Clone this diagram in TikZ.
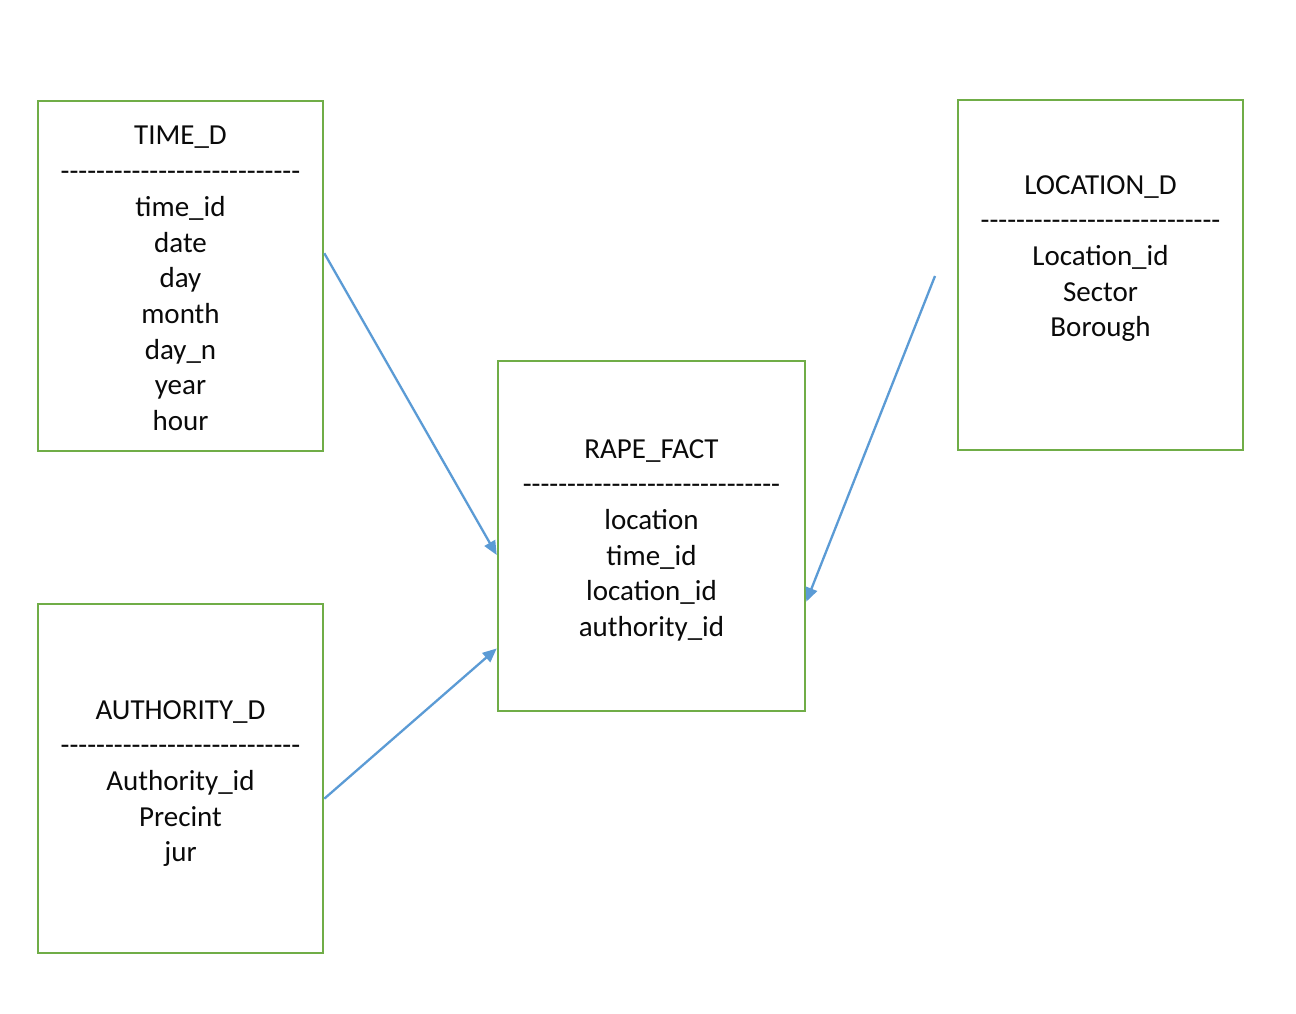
\documentclass[tikz,border=0pt]{standalone}
\usepackage{fontspec}
\setmainfont{Carlito}
\usetikzlibrary{arrows.meta}
\definecolor{boxgreen}{HTML}{70AD47}
\definecolor{arrowblue}{HTML}{5B9BD5}
\definecolor{txtcol}{HTML}{0A0A0A}
\newcommand\hy{\mbox{-}}
\newcommand\hyfive{\hy\hy\hy\hy\hy}
\newcommand\dashesA{\hyfive\hyfive\hyfive\hyfive\hyfive\hy\hy}
\newcommand\dashesB{\hyfive\hyfive\hyfive\hyfive\hyfive\hy\hy\hy\hy}
\tikzset{
  entity/.style={draw=boxgreen, line width=2.6pt, rectangle, inner sep=0pt},
  txt/.style={anchor=base, inner sep=0pt, text=txtcol, font=\fontsize{29}{35.5}\selectfont},
  link/.style={draw=arrowblue, line width=2.3pt, -{Triangle[length=14pt,width=12pt]}}
}
\begin{document}
\begin{tikzpicture}[x=1pt,y=-1pt]
\useasboundingbox[fill=white] (0,0) rectangle (1296,1014);
% boxes
\node[entity, minimum width=285pt, minimum height=350pt] (tbox) at (180.5,276) {};
\node[entity, minimum width=285pt, minimum height=350pt] (lbox) at (1100.5,275) {};
\node[entity, minimum width=307pt, minimum height=350pt] (fbox) at (651.5,536) {};
\node[entity, minimum width=285pt, minimum height=349pt] (abox) at (180.5,778.5) {};
% texts
\foreach \t [count=\i] in {TIME\_D,\dashesA,time\_id,date,day,month,day\_n,year,hour}
  \node[txt] (tt-\i) at (180.5,{145+(\i-1)*35.7}) {\t};
\foreach \t [count=\i] in {LOCATION\_D,\dashesA,Location\_id,Sector,Borough}
  \node[txt] (lt-\i) at (1100.5,{194+(\i-1)*35.7}) {\t};
\foreach \t [count=\i] in {RAPE\_FACT,\dashesB,location,time\_id,location\_id,authority\_id}
  \node[txt] (ft-\i) at (651.5,{458+(\i-1)*35.7}) {\t};
\foreach \t [count=\i] in {AUTHORITY\_D,\dashesA,Authority\_id,Precint,jur}
  \node[txt] (at-\i) at (180.5,{719+(\i-1)*35.7}) {\t};
% connectors
\coordinate (lfree) at (935,276);
\draw[link] (tbox.9.2) -- (fbox.187.8);
\draw[link] (abox.-8.6) -- (fbox.216.2);
\draw[link] (lfree) -- (fbox.-23.1);
\end{tikzpicture}
\end{document}
